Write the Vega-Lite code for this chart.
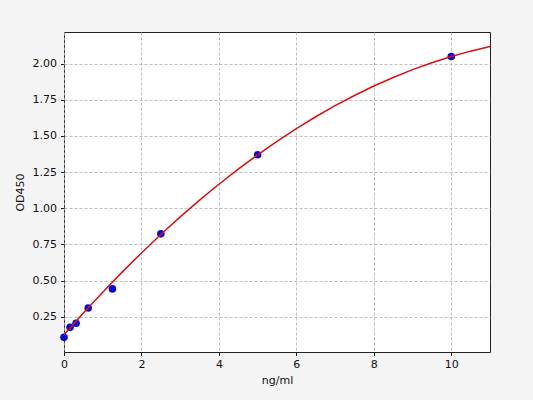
{
  "$schema": "https://vega.github.io/schema/vega-lite/v6.json",
  "width": 426,
  "height": 320,
  "autosize": "none",
  "padding": {"left": 64, "top": 32, "right": 43, "bottom": 48},
  "background": "#f4f4f4",
  "config": {
    "view": {"fill": "white", "stroke": "#222222", "strokeWidth": 1},
    "axis": {
      "labelFont": "DejaVu Sans",
      "titleFont": "DejaVu Sans",
      "labelFontSize": 11,
      "titleFontSize": 11,
      "titleFontWeight": "normal",
      "labelColor": "#111111",
      "titleColor": "#111111",
      "tickColor": "#222222",
      "tickSize": 3.5,
      "domain": false,
      "labelFlush": false,
      "gridColor": "#b0b0b0",
      "gridDash": [3, 2],
      "gridWidth": 0.8
    }
  },
  "datasets": {
    "points": [
      {"conc": 0, "od": 0.107},
      {"conc": 0.156, "od": 0.176},
      {"conc": 0.312, "od": 0.204},
      {"conc": 0.625, "od": 0.31},
      {"conc": 1.25, "od": 0.442},
      {"conc": 2.5, "od": 0.823},
      {"conc": 5, "od": 1.37},
      {"conc": 10, "od": 2.05}
    ],
    "curve": [
      {"conc": 0, "od": 0.125},
      {"conc": 0.5, "od": 0.275},
      {"conc": 1, "od": 0.419},
      {"conc": 1.5, "od": 0.558},
      {"conc": 2, "od": 0.691},
      {"conc": 2.5, "od": 0.818},
      {"conc": 3, "od": 0.94},
      {"conc": 3.5, "od": 1.056},
      {"conc": 4, "od": 1.166},
      {"conc": 4.5, "od": 1.271},
      {"conc": 5, "od": 1.37},
      {"conc": 5.5, "od": 1.463},
      {"conc": 6, "od": 1.551},
      {"conc": 6.5, "od": 1.633},
      {"conc": 7, "od": 1.71},
      {"conc": 7.5, "od": 1.78},
      {"conc": 8, "od": 1.846},
      {"conc": 8.5, "od": 1.905},
      {"conc": 9, "od": 1.959},
      {"conc": 9.5, "od": 2.007},
      {"conc": 10, "od": 2.05},
      {"conc": 10.5, "od": 2.087},
      {"conc": 11, "od": 2.119}
    ]
  },
  "layer": [
    {
      "data": {"name": "points"},
      "mark": {"type": "circle", "size": 58, "color": "#0a0ad8", "opacity": 1},
      "encoding": {
        "x": {
          "field": "conc", "type": "quantitative",
          "scale": {"domain": [0, 11], "nice": false, "zero": false},
          "axis": {"title": "ng/ml", "values": [0, 2, 4, 6, 8, 10], "labelPadding": 3, "titlePadding": 5, "grid": true}
        },
        "y": {
          "field": "od", "type": "quantitative",
          "scale": {"domain": [0.0055, 2.2195], "nice": false, "zero": false},
          "axis": {"title": "OD450", "values": [0.25, 0.5, 0.75, 1, 1.25, 1.5, 1.75, 2], "format": ".2f", "labelPadding": 4, "titlePadding": 7, "grid": true}
        }
      }
    },
    {
      "data": {"name": "curve"},
      "mark": {"type": "line", "color": "#d81010", "strokeWidth": 1.5, "clip": true},
      "encoding": {
        "x": {"field": "conc", "type": "quantitative"},
        "y": {"field": "od", "type": "quantitative"}
      }
    }
  ]
}
